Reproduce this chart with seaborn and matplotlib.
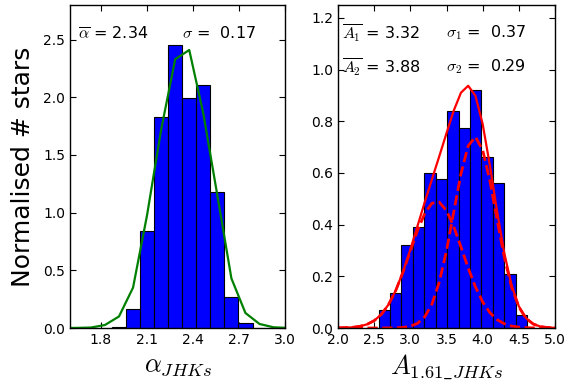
import numpy as np
import seaborn as sns
import matplotlib

matplotlib.use("Agg")
import matplotlib.pyplot as plt

# ---- left panel: alpha_JHKs histogram (normalised) ----
alpha_edges = [1.873, 1.965, 2.0565, 2.148, 2.2395, 2.331, 2.4225, 2.514, 2.6055, 2.697, 2.7885]
alpha_heights = [0.006, 0.165, 0.84, 1.83, 2.45, 1.99, 2.11, 1.18, 0.27, 0.046]

# green gaussian drawn at bin centres
alpha_fit_x = [1.553, 1.6445, 1.736, 1.8275, 1.919, 2.0105, 2.102, 2.1935, 2.285,
               2.3765, 2.468, 2.5595, 2.651, 2.7425, 2.834, 2.9255, 3.017]
alpha_fit_y = [0.0, 0.001, 0.004, 0.026, 0.10, 0.35, 0.98, 1.72, 2.33,
               2.41, 1.86, 1.15, 0.43, 0.13, 0.035, 0.006, 0.001]

# ---- right panel: A_1.61 histogram (normalised) ----
ext_edges = [2.56, 2.718, 2.876, 3.034, 3.192, 3.35, 3.508, 3.666, 3.824,
             3.982, 4.14, 4.298, 4.456, 4.614]
ext_heights = [0.07, 0.135, 0.32, 0.39, 0.60, 0.575, 0.84, 0.775, 0.92, 0.66, 0.56, 0.21, 0.05]

# two-component fit
ext_fit_x = [2.0, 2.1, 2.2, 2.3, 2.4, 2.5, 2.6, 2.7, 2.8, 2.9, 3.0, 3.1, 3.2, 3.3, 3.4, 3.5,
             3.6, 3.7, 3.8, 3.9, 4.0, 4.1, 4.2, 4.3, 4.4, 4.5, 4.6, 4.7, 4.8, 4.9, 5.0]
ext_comp1 = [0.0004, 0.0011, 0.0027, 0.0064, 0.014, 0.0283, 0.0528, 0.0912, 0.1461, 0.2166,
             0.2972, 0.3775, 0.4439, 0.4832, 0.487, 0.4543, 0.3923, 0.3137, 0.2322, 0.1591,
             0.1009, 0.0592, 0.0322, 0.0162, 0.0075, 0.0033, 0.0013, 0.0005, 0.0002, 0.0001, 0.0]
ext_comp2 = [0.0, 0.0, 0.0, 0.0, 0.0, 0.0, 0.0, 0.0002, 0.0006, 0.0022,
             0.0067, 0.0181, 0.0437, 0.0935, 0.1775, 0.2995, 0.4488, 0.5971, 0.7052, 0.7396,
             0.6886, 0.5694, 0.418, 0.2724, 0.1575, 0.081, 0.037, 0.015, 0.0054, 0.0017, 0.0005]
ext_total = [0.0004, 0.0011, 0.0027, 0.0064, 0.014, 0.0283, 0.0528, 0.0914, 0.1467, 0.2188,
             0.3039, 0.3956, 0.4876, 0.5767, 0.6645, 0.7538, 0.8411, 0.9108, 0.9374, 0.8987,
             0.7895, 0.6286, 0.4502, 0.2886, 0.165, 0.0843, 0.0383, 0.0155, 0.0056, 0.0018, 0.0005]

sns.set_style(
    "ticks",
    {
        "xtick.direction": "in",
        "ytick.direction": "in",
        "xtick.top": True,
        "ytick.right": True,
        "axes.edgecolor": "black",
        "axes.labelcolor": "black",
        "text.color": "black",
        "xtick.color": "black",
        "ytick.color": "black",
    },
)
plt.rcParams["font.family"] = ["DejaVu Sans"]
plt.rcParams["mathtext.fontset"] = "cm"
plt.rcParams["xtick.major.size"] = 4
plt.rcParams["ytick.major.size"] = 4


def centres(edges):
    e = np.asarray(edges)
    return (e[:-1] + e[1:]) / 2


fig = plt.figure(figsize=(5.7, 3.87), dpi=100)
ax1 = fig.add_axes([70 / 570, 59 / 387, 215 / 570, 323 / 387])
ax2 = fig.add_axes([338 / 570, 59 / 387, 217 / 570, 323 / 387])

# left panel
sns.histplot(
    x=centres(alpha_edges),
    weights=alpha_heights,
    bins=alpha_edges,
    color="#0000ff",
    alpha=1,
    edgecolor="black",
    linewidth=0.8,
    ax=ax1,
)
sns.lineplot(x=alpha_fit_x, y=alpha_fit_y, color="green", lw=1.6, sort=False, ax=ax1)
ax1.set_xlim(1.6, 3.0)
ax1.set_ylim(0, 2.8)
ax1.set_xticks([1.8, 2.1, 2.4, 2.7, 3.0])
ax1.set_yticks([0.0, 0.5, 1.0, 1.5, 2.0, 2.5])
ax1.set_ylabel("Normalised # stars", fontsize=18, labelpad=6)
ax1.set_xlabel(r"$\alpha_{JHKs}$", fontsize=19)
ax1.text(0.035, 0.913, r"$\overline{\alpha}$ = 2.34", transform=ax1.transAxes,
         fontsize=11.5, va="center")
ax1.text(0.52, 0.913, r"$\sigma$ =  0.17", transform=ax1.transAxes,
         fontsize=11.5, va="center")

# right panel
sns.histplot(
    x=centres(ext_edges),
    weights=ext_heights,
    bins=ext_edges,
    color="#0000ff",
    alpha=1,
    edgecolor="black",
    linewidth=0.8,
    ax=ax2,
)
sns.lineplot(x=ext_fit_x, y=ext_comp1, color="red", lw=2, ls="--", sort=False, ax=ax2)
sns.lineplot(x=ext_fit_x, y=ext_comp2, color="red", lw=2, ls="--", sort=False, ax=ax2)
sns.lineplot(x=ext_fit_x, y=ext_total, color="red", lw=1.6, sort=False, ax=ax2)
ax2.set_xlim(2.0, 5.0)
ax2.set_ylim(0, 1.25)
ax2.set_xticks([2.0, 2.5, 3.0, 3.5, 4.0, 4.5, 5.0])
ax2.set_yticks([0.0, 0.2, 0.4, 0.6, 0.8, 1.0, 1.2])
ax2.set_ylabel("")
ax2.set_xlabel(r"$A_{1.61\_JHKs}$", fontsize=19)
ax2.text(0.02, 0.913, r"$\overline{A_1}$ = 3.32", transform=ax2.transAxes,
         fontsize=11.5, va="center")
ax2.text(0.50, 0.913, r"$\sigma_1$ =  0.37", transform=ax2.transAxes,
         fontsize=11.5, va="center")
ax2.text(0.02, 0.809, r"$\overline{A_2}$ = 3.88", transform=ax2.transAxes,
         fontsize=11.5, va="center")
ax2.text(0.50, 0.809, r"$\sigma_2$ =  0.29", transform=ax2.transAxes,
         fontsize=11.5, va="center")

for ax in (ax1, ax2):
    ax.tick_params(labelsize=10)
    for s in ax.spines.values():
        s.set_linewidth(1.0)

fig.savefig("out.png", dpi=100)
